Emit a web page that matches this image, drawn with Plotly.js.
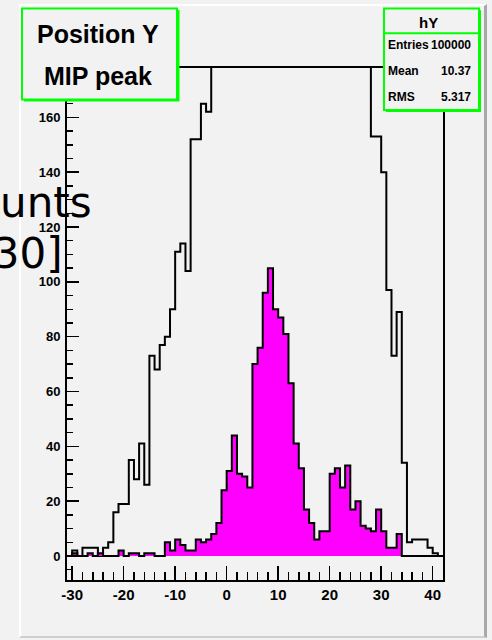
<!DOCTYPE html>
<html>
<head>
<meta charset="utf-8">
<script src="https://cdn.plot.ly/plotly-3.0.1.min.js"></script>
<style>
  html, body { margin: 0; padding: 0; background: #f2f2f2; }
  #bevel { position: absolute; left: 19px; top: 4px; width: 463px; height: 630px;
           border-left: 2px solid #ffffff; border-top: 2px solid #ffffff;
           border-right: 3px solid #a8a8a8; border-bottom: 2px solid #cfcfcf; }
  #chart { position: absolute; left: 0; top: 0; width: 492px; height: 640px; }
</style>
</head>
<body>
<div id="bevel"></div>
<div id="chart"></div>
<script>
// bin lower edges (bin width 1)
const binLow = [-31,-30,-29,-28,-27,-26,-25,-24,-23,-22,-21,-20,-19,-18,-17,-16,-15,-14,-13,-12,
  -11,-10,-9,-8,-7,-6,-5,-4,-3,-2,-1,0,1,2,3,4,5,6,7,8,9,10,11,12,13,14,15,16,17,18,19,20,
  21,22,23,24,25,26,27,28,29,30,31,32,33,34,35,36,37,38,39,40,41];
const binHighLast = 42;

// all-events histogram (outline only); bins -3..27 run off the top of the frame
const countsAll = [0,2,0,3,3,3,0,3,5,16,19,19,35,28,41,26,73,68,77,80,
  90,111,114,104,152,152,165,162,190,215,240,265,290,310,330,345,360,370,378,383,
  385,384,380,375,368,360,350,340,328,315,300,285,268,250,232,215,200,188,180,
  153,153,140,97,73,89,34,5,6,6,6,3,1,0];

// MIP peak histogram (magenta fill)
const countsMIP = [0,1,0,0,1,0,1,0,0,0,2,0,1,1,0,1,1,0,0,5,
  2,6,4,2,2,6,5,6,8,12,24,31,44,30,29,25,70,76,96,105,
  90,87,81,63,41,32,17,12,6,9,9,30,32,25,33,17,20,11,10,9,
  17,9,3,3,8,0,0,0,0,0,0,0,0];

const xTickVals = [-30,-20,-10,0,10,20,30,40];
const yTickVals = [0,20,40,60,80,100,120,140,160];

const titleLines = ["Position Y", "MIP peak"];
const statsTitle = "hY";
const statsNames = ["Entries", "Mean", "RMS"];
const statsValues = ["100000", "10.37", "5.317"];
const yTitleLines = ["Counts", "[-30, 30]"];

function stepXY(vals) {
  const xs = binLow.concat([binHighLast]);
  const ys = vals.concat([vals[vals.length - 1]]);
  return {x: xs, y: ys};
}

const all = stepXY(countsAll);
const mip = stepXY(countsMIP);

const traces = [
  {x: all.x, y: all.y, type: 'scatter', mode: 'lines', line: {shape: 'hv', color: '#000', width: 2}, hoverinfo: 'skip'},
  {x: mip.x, y: mip.y, type: 'scatter', mode: 'lines', line: {shape: 'hv', color: '#000', width: 2},
   fill: 'tozeroy', fillcolor: '#ff00ff', hoverinfo: 'skip'}
];

// plot-area geometry in pixels
const L = 67, R = 443, T = 68, B = 580;
const px = p => (p - L) / (R - L);
const py = p => (B - p) / (B - T);

const green = '#00ff00';
const bg = '#f2f2f2';
const shapes = [
  {type: 'rect', xref: 'paper', yref: 'paper', x0: px(24), x1: px(179.5), y0: py(101.5), y1: py(10), fillcolor: green, line: {width: 0}},
  {type: 'rect', xref: 'paper', yref: 'paper', x0: px(22), x1: px(177), y0: py(99.5), y1: py(8.5), fillcolor: bg, line: {color: green, width: 2}},
  {type: 'rect', xref: 'paper', yref: 'paper', x0: px(386), x1: px(481), y0: py(112), y1: py(10), fillcolor: green, line: {width: 0}},
  {type: 'rect', xref: 'paper', yref: 'paper', x0: px(384), x1: px(479), y0: py(110), y1: py(8.5), fillcolor: bg, line: {color: green, width: 2}},
  {type: 'line', xref: 'paper', yref: 'paper', x0: px(384), x1: px(479), y0: py(33.3), y1: py(33.3), line: {color: green, width: 2}}
];

const boldFont = (s) => ({family: 'Liberation Sans, Arial, sans-serif', size: s, color: '#000', weight: 'bold'});
const ann = [];
function addText(text, xp, yp, xa, font) {
  ann.push({text: text, xref: 'paper', yref: 'paper', x: px(xp), y: py(yp), xanchor: xa, yanchor: 'middle',
            showarrow: false, font: font, borderpad: 0});
}
addText(titleLines[0], 98, 34, 'center', boldFont(25));
addText(titleLines[1], 98, 76, 'center', boldFont(25));
addText(statsTitle, 428, 22, 'center', boldFont(15));
const statY = [45, 71, 97];
for (let i = 0; i < statsNames.length; i++) {
  addText(statsNames[i], 387, statY[i], 'left', boldFont(12));
  addText(statsValues[i], 472, statY[i], 'right', boldFont(12));
}
const bigFont = {family: 'DejaVu Sans', size: 42, color: '#000'};
addText(yTitleLines[0], 93, 202, 'right', bigFont);
addText(yTitleLines[1], 64, 253, 'right', bigFont);

const layout = {
  width: 492, height: 640, autosize: false,
  paper_bgcolor: 'rgba(0,0,0,0)', plot_bgcolor: bg,
  margin: {l: L, r: 492 - R, t: T, b: 640 - B, pad: 0},
  showlegend: false,
  xaxis: {range: [-31, 42], tickmode: 'array', tickvals: xTickVals, ticktext: xTickVals.map(String),
          ticks: 'inside', ticklen: 14, tickwidth: 1.5, tickcolor: '#000',
          showline: true, mirror: true, linecolor: '#000', linewidth: 2,
          showgrid: false, zeroline: false, tickfont: boldFont(15), ticklabelstandoff: 0,
          minor: {dtick: 2, tick0: 0, ticks: 'inside', ticklen: 8, tickwidth: 1.5, tickcolor: '#000', showgrid: false}},
  yaxis: {range: [-8.75, 178], tickmode: 'array', tickvals: yTickVals, ticktext: yTickVals.map(String),
          ticks: 'inside', ticklen: 12, tickwidth: 1.5, tickcolor: '#000',
          showline: true, mirror: true, linecolor: '#000', linewidth: 2,
          showgrid: false, zeroline: false, tickfont: boldFont(13), ticklabelstandoff: 2,
          minor: {dtick: 5, tick0: 0, ticks: 'inside', ticklen: 6, tickwidth: 1.5, tickcolor: '#000', showgrid: false}},
  shapes: shapes,
  annotations: ann
};

Plotly.newPlot('chart', traces, layout, {staticPlot: true, displayModeBar: false});
</script>
</body>
</html>
